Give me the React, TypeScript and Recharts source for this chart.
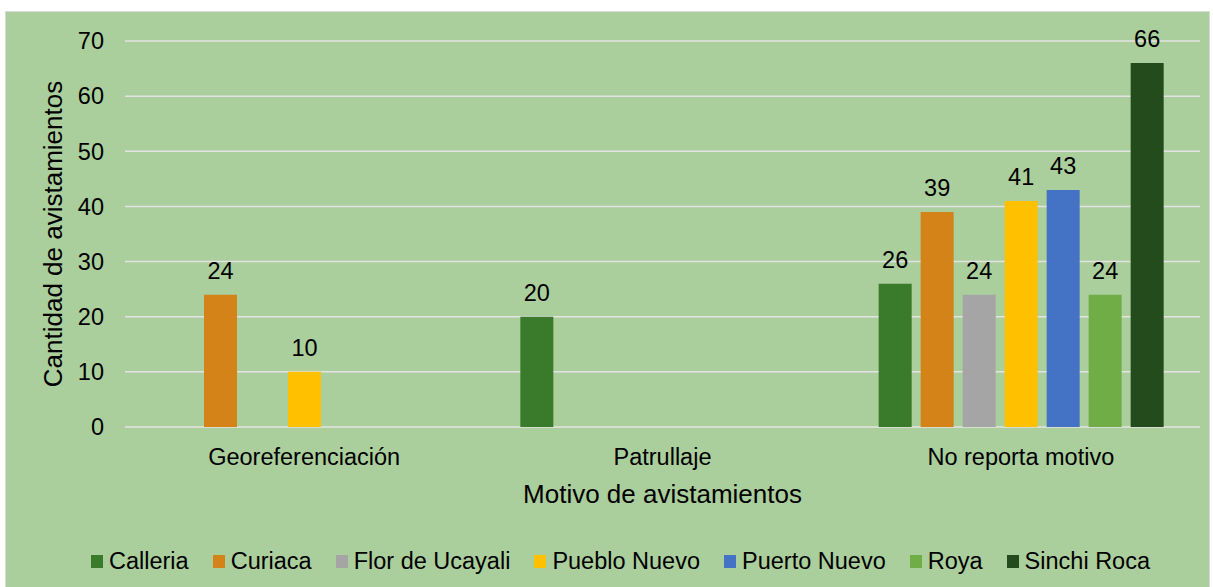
import React from "react";
import {
  BarChart,
  Bar,
  XAxis,
  YAxis,
  CartesianGrid,
  Legend,
  LabelList,
  Label,
} from "recharts";

const categories = ["Georeferenciación", "Patrullaje", "No reporta motivo"];

const calleria = [0, 20, 26];
const curiaca = [24, 0, 39];
const florDeUcayali = [0, 0, 24];
const puebloNuevo = [10, 0, 41];
const puertoNuevo = [0, 0, 43];
const roya = [0, 0, 24];
const sinchiRoca = [0, 0, 66];

const yTicks = [0, 10, 20, 30, 40, 50, 60, 70];

const series = [
  { key: "Calleria", values: calleria, color: "#3A7A2B" },
  { key: "Curiaca", values: curiaca, color: "#D48319" },
  { key: "Flor de Ucayali", values: florDeUcayali, color: "#A5A5A5" },
  { key: "Pueblo Nuevo", values: puebloNuevo, color: "#FFC000" },
  { key: "Puerto Nuevo", values: puertoNuevo, color: "#4472C4" },
  { key: "Roya", values: roya, color: "#70AD47" },
  { key: "Sinchi Roca", values: sinchiRoca, color: "#234B1C" },
];

const data = categories.map((name, i) => {
  const row: Record<string, string | number> = { name };
  series.forEach((s) => {
    row[s.key] = s.values[i];
  });
  return row;
});

const FONT = '"Liberation Sans", Arial, sans-serif';

function LegendContent() {
  return (
    <div
      style={{
        height: 84,
        boxSizing: "border-box",
        paddingTop: 43,
        paddingBottom: 11,
        paddingLeft: 60,
        display: "flex",
        justifyContent: "center",
        alignItems: "center",
        fontFamily: FONT,
        fontSize: 23.5,
        color: "#000",
      }}
    >
      {series.map((s) => (
        <div
          key={s.key}
          style={{ display: "flex", alignItems: "center", marginRight: 24 }}
        >
          <span
            style={{
              display: "inline-block",
              width: 12,
              height: 13,
              background: s.color,
              marginRight: 6,
            }}
          />
          <span>{s.key}</span>
        </div>
      ))}
    </div>
  );
}

export default function App() {
  return (
    <div
      style={{
        position: "absolute",
        left: 5,
        top: 11,
        width: 1205,
        height: 585,
        background: "#AACE9C",
        border: "1px solid #D9D9D9",
        boxSizing: "border-box",
      }}
    >
      <BarChart
        width={1203}
        height={585}
        data={data}
        margin={{ top: 29, right: 9, left: -1, bottom: 10 }}
        barSize={33}
        barGap={9}
        style={{ fontFamily: FONT }}
      >
        <CartesianGrid
          vertical={false}
          stroke="#E3E3E3"
          strokeWidth={1.5}
        />
        <XAxis
          dataKey="name"
          axisLine={false}
          tickLine={false}
          tickMargin={15}
          height={76}
          tick={{ fontSize: 23.5, fill: "#000", fontFamily: FONT }}
        >
          <Label
            value="Motivo de avistamientos"
            position="insideBottom"
            offset={0}
            style={{ fontSize: 26, fill: "#000", fontFamily: FONT }}
          />
        </XAxis>
        <YAxis
          domain={[0, 70]}
          ticks={yTicks}
          width={120}
          axisLine={false}
          tickLine={false}
          tickMargin={15}
          tick={{ fontSize: 23.5, fill: "#000", fontFamily: FONT }}
        >
          <Label
            value="Cantidad de avistamientos"
            angle={-90}
            position="center"
            dx={-12}
            style={{ fontSize: 26, fill: "#000", fontFamily: FONT, textAnchor: "middle" }}
          />
        </YAxis>
        <Legend verticalAlign="bottom" content={<LegendContent />} />
        {series.map((s) => (
          <Bar
            key={s.key}
            dataKey={s.key}
            fill={s.color}
            isAnimationActive={false}
          >
            <LabelList
              dataKey={s.key}
              position="top"
              offset={16}
              formatter={(v: any) => (v ? v : "")}
              style={{ fontSize: 23.5, fill: "#000", fontFamily: FONT }}
            />
          </Bar>
        ))}
      </BarChart>
    </div>
  );
}
